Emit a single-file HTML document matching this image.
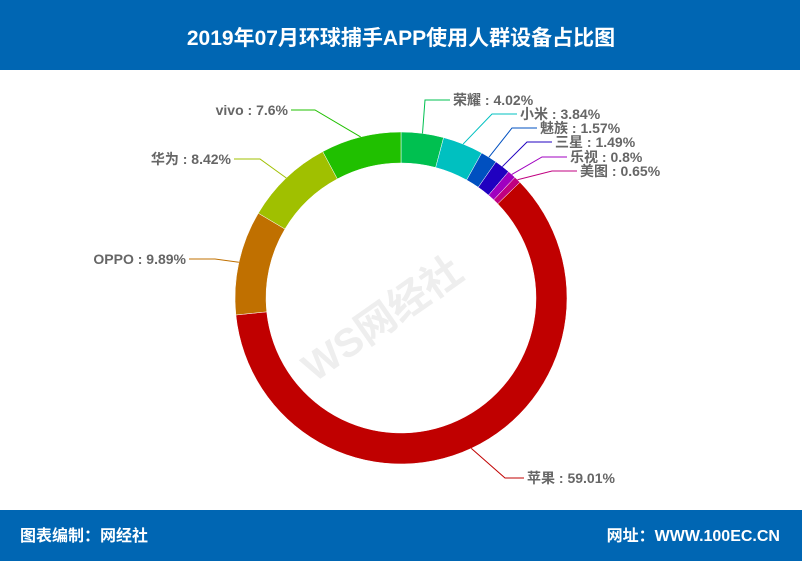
<!DOCTYPE html>
<html><head><meta charset="utf-8"><style>
body{margin:0;width:802px;height:561px;background:#fff;overflow:hidden;font-family:"Liberation Sans","Noto Sans CJK SC",sans-serif}
</style></head><body>
<svg id="s" width="802" height="561" xmlns="http://www.w3.org/2000/svg" style="position:absolute;left:0;top:0">
<rect x="0" y="0" width="800" height="70" fill="#0066b3"/>
<text x="401" y="45" text-anchor="middle" fill="#fff" font-size="21" font-weight="bold" font-family="Liberation Sans,Noto Sans CJK SC,sans-serif">2019年07月环球捕手APP使用人群设备占比图</text>
<rect x="0" y="510" width="802" height="51" fill="#0066b3"/>
<text x="20" y="541" fill="#fff" font-size="16" font-weight="bold" font-family="Liberation Sans,Noto Sans CJK SC,sans-serif">图表编制：网经社</text>
<text x="780" y="541" text-anchor="end" fill="#fff" font-size="16" font-weight="bold" font-family="Liberation Sans,Noto Sans CJK SC,sans-serif">网址：WWW.100EC.CN</text>
<g id="g"></g>
<text x="390" y="330" fill="#eeeeee" font-size="40" font-weight="bold" transform="rotate(-35 390 330)" text-anchor="middle" font-family="Liberation Sans,Noto Sans CJK SC,sans-serif">WS网经社</text>
</svg>
<script>
var d=[["荣耀",4.02,"#00c050",[425,100],453,100],["小米",3.84,"#00c0c0",[492,114],520,114],["魅族",1.57,"#0050c0",[512,128],540,128],["三星",1.49,"#2000c0",[527,142],555,142],["乐视",0.8,"#a000c0",[542,157],570,157],["美图",0.65,"#c00080",[552,171],580,171],["苹果",59.01,"#c00000",[505,478],527,478],["OPPO",9.89,"#c07000",[215,259],186,259],["华为",8.42,"#a0c000",[260,159],231,159],["vivo",7.6,"#20c000",[315,110],288,110]];
var tot=0;d.forEach(function(e){tot+=e[1]});
var cx=401,cy=298,R=166,r=135,a=0,h='';
function p(rad,an){return[cx+rad*Math.sin(an),cy-rad*Math.cos(an)]}
d.forEach(function(e){var a1=a+e[1]/tot*2*Math.PI,l=(a1-a)>Math.PI?1:0;
var A=p(R,a),B=p(R,a1),C=p(r,a1),D=p(r,a);
h+='<path d="M'+A+' A'+R+','+R+' 0 '+l+' 1 '+B+' L'+C+' A'+r+','+r+' 0 '+l+' 0 '+D+'Z" fill="'+e[2]+'" stroke="#fff" stroke-width="0.5"/>';
var m=p(R,(a+a1)/2),E=e[3],right=e[4]>E[0];
var tx=right?e[4]-3:e[4]+3;
h+='<polyline points="'+m+' '+E+' '+tx+','+E[1]+'" fill="none" stroke="'+e[2]+'" stroke-width="1"/>';
h+='<text x="'+e[4]+'" y="'+(e[5]+5)+'" font-size="14" font-weight="bold" fill="#666" text-anchor="'+(right?'start':'end')+'" xml:space="preserve">'+e[0]+' : '+e[1]+'%</text>';
a=a1;});
document.getElementById('g').innerHTML=h;
</script>
</body></html>
